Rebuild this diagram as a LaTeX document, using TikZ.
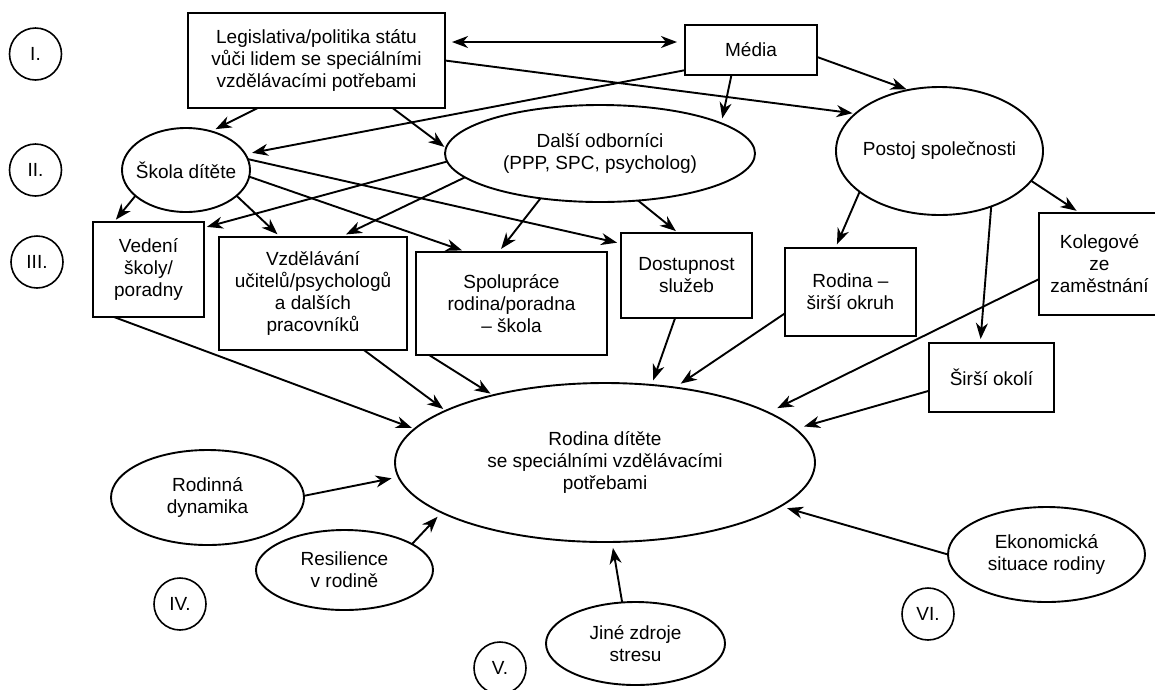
\documentclass[tikz,border=0pt]{standalone}
\usepackage{fontspec}
\setmainfont{Liberation Sans}
\usetikzlibrary{shapes.geometric,arrows.meta}
\begin{document}
\begin{tikzpicture}[x=1pt,y=-1pt,
  every node/.style={font=\fontsize{19}{22}\selectfont, align=center, inner sep=0pt, outer sep=0pt, line width=1.9pt},
  box/.style 2 args={draw, rectangle, minimum width=#1pt, minimum height=#2pt},
  ell/.style 2 args={draw, ellipse, inner xsep=-25pt, minimum width=#1pt, minimum height=#2pt},
  rn/.style={draw, circle, minimum size=52pt, line width=1.6pt},
  arr/.style={line width=1.9pt, -{Stealth[length=16pt,width=12pt,inset=5pt]}},
  darr/.style={line width=1.9pt, {Stealth[length=16pt,width=12pt,inset=5pt]}-{Stealth[length=16pt,width=12pt,inset=5pt]}}]
\useasboundingbox (0,0) rectangle (1155,689);
\clip (0,0) rectangle (1155,689);
\fill[white] (0,0) rectangle (1155,689);

% boxes
\node[box={257}{95}] (leg) at (316.5,60.5) {Legislativa/politika státu\\vůči lidem se speciálními\\vzdělávacími potřebami};
\node[box={132}{50}] (media) at (751,50) {Média};
\node[box={111}{95}] (vedeni) at (148.5,269.5) {Vedení\\školy/\\poradny};
\node[box={188}{113}] (vzdel) at (313,293.5) {Vzdělávání\\učitelů/psychologů\\a dalších\\pracovníků};
\node[box={191}{103}] (spolu) at (511.5,303.5) {Spolupráce\\rodina/poradna\\– škola};
\node[box={131}{85}] (dostup) at (686.5,275.5) {Dostupnost\\služeb};
\node[box={131}{88}] (rodsir) at (850.5,292) {Rodina –\\širší okruh};
\node[box={121}{102}] (koleg) at (1099.5,264) {Kolegové\\ze\\zaměstnání};
\node[box={125}{69}] (sirsi) at (991.5,377.5) {Širší okolí};

% ellipses
\node[ell={128}{84}] (skola) at (186,170) {Škola dítěte};
\node[ell={310}{97}] (dalsi) at (600,153.5) {Další odborníci\\(PPP, SPC, psycholog)};
\node[ell={207}{128}] (postoj) at (939.5,151) {Postoj společnosti};
\node[ell={420}{159}] (rodina) at (605,462.5) {Rodina dítěte\\se speciálními vzdělávacími\\potřebami};
\node[ell={193}{95}] (dyn) at (207.5,497.5) {Rodinná\\dynamika};
\node[ell={177}{80}] (resil) at (344.5,570) {Resilience\\v rodině};
\node[ell={179}{83}] (jine) at (635.5,643.5) {Jiné zdroje\\stresu};
\node[ell={197}{95}] (ekon) at (1046.5,554.5) {Ekonomická\\situace rodiny};

% level markers
\node[rn] (r1) at (35.5,54) {I.};
\node[rn] (r2) at (35.5,170) {II.};
\node[rn] (r3) at (37,262) {III.};
\node[rn] (r4) at (180,604) {IV.};
\node[rn] (r5) at (500,668) {V.};
\node[rn] (r6) at (928,614) {VI.};

% connectors
\coordinate (y42) at (0,42);
\draw[darr, shorten <=7pt, shorten >=8pt] (leg.east |- y42) -- (media.west |- y42);
\draw[arr, shorten >=5pt] (leg.219) -- (skola.57);
\draw[arr, shorten >=2pt] (leg.-32) -- (dalsi.178);
\draw[arr, shorten >=3pt] (leg.east) -- (postoj.156.5);
\draw[arr, shorten >=7pt] (media.197.6) -- (skola.15);
\draw[arr, shorten >=5pt] (media.-128) -- (dalsi.14);
\draw[arr, shorten >=2pt] (media.-6) -- (postoj.117);
\draw[arr, shorten >=3pt] (skola.207.5) -- (vedeni.126);
\draw[arr, shorten >=4pt] (skola.-27.5) -- (vzdel.120.3);
\draw[arr, shorten >=5pt] (skola.-6.2) -- (spolu.131.2);
\draw[arr, shorten >=4pt] (skola.10.3) -- (dostup.154.3);
\draw[arr, shorten >=3pt] (dalsi.183.5) -- (vedeni.37.3);
\draw[arr, shorten >=6pt] (dalsi.190.1) -- (vzdel.64.7);
\draw[arr, shorten >=4pt] (dalsi.217.8) -- (spolu.104.6);
\draw[arr, shorten >=3pt] (dalsi.-51.5) -- (dostup.101.8);
\draw[arr, shorten >=4pt] (postoj.207) -- (rodsir.109.7);
\draw[arr, shorten >=4pt] (postoj.-47.9) -- (sirsi.108.9);
\draw[arr, shorten >=4pt] (postoj.-18.5) -- (koleg.111);
\draw[arr, shorten >=3pt] (vedeni.234.8) -- (rodina.170.1);
\draw[arr, shorten >=3pt] (vzdel.-48) -- (rodina.162.7);
\draw[arr, shorten >=3pt] (spolu.212.2) -- (rodina.149);
\draw[arr, shorten >=5pt] (dostup.255.5) -- (rodina.59);
\draw[arr, shorten >=7pt] (rodsir.198.3) -- (rodina.47.5);
\draw[arr, shorten >=10pt] (koleg.194.6) -- (rodina.17);
\draw[arr, shorten >=9pt] (sirsi.192.9) -- (rodina.10.6);
\draw[arr, shorten >=7pt] (dyn.1) -- (rodina.184);
\draw[arr, shorten >=6pt] (resil.21) -- (rodina.197);
\draw[arr, shorten >=6pt] (jine.108.4) -- (rodina.-85.8);
\draw[arr, shorten >=7pt] (ekon.180) -- (rodina.-14.9);
\end{tikzpicture}
\end{document}
